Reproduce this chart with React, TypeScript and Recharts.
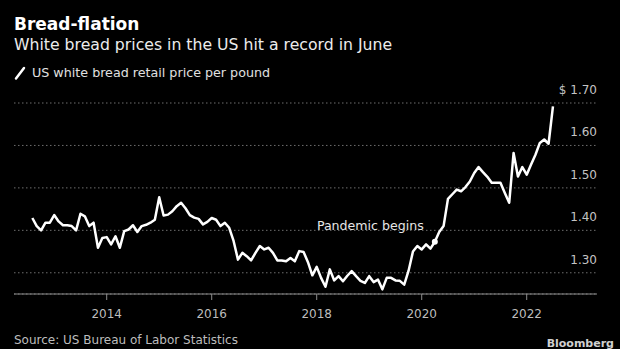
import React from 'react';
import { LineChart, Line, XAxis, YAxis, CartesianGrid, ReferenceDot } from 'recharts';

// US white bread retail price per pound (BLS), monthly, Jul 2012 - Jun 2022
const price2012 = [1.429, 1.41, 1.4, 1.418, 1.418, 1.436]; // Jul-Dec
const price2013 = [1.421, 1.412, 1.412, 1.41, 1.4, 1.439, 1.433, 1.41, 1.418, 1.359, 1.382, 1.384];
const price2014 = [1.367, 1.386, 1.359, 1.398, 1.402, 1.412, 1.396, 1.41, 1.413, 1.418, 1.425, 1.478];
const price2015 = [1.435, 1.437, 1.445, 1.457, 1.465, 1.452, 1.436, 1.43, 1.427, 1.414, 1.42, 1.429];
const price2016 = [1.425, 1.41, 1.418, 1.406, 1.375, 1.331, 1.347, 1.339, 1.329, 1.347, 1.363, 1.355];
const price2017 = [1.359, 1.347, 1.329, 1.329, 1.327, 1.335, 1.327, 1.351, 1.349, 1.325, 1.294, 1.314];
const price2018 = [1.288, 1.267, 1.308, 1.282, 1.292, 1.28, 1.293, 1.304, 1.292, 1.281, 1.276, 1.292];
const price2019 = [1.278, 1.284, 1.261, 1.288, 1.288, 1.282, 1.281, 1.272, 1.305, 1.35, 1.363, 1.355];
const price2020 = [1.367, 1.357, 1.373, 1.396, 1.41, 1.474, 1.485, 1.496, 1.492, 1.502, 1.515, 1.535];
const price2021 = [1.549, 1.537, 1.526, 1.512, 1.512, 1.512, 1.488, 1.465, 1.582, 1.527, 1.549, 1.531];
const price2022 = [1.555, 1.578, 1.606, 1.614, 1.604, 1.692]; // Jan-Jun

const yearTicks = [2014, 2016, 2018, 2020, 2022];
const priceTicks = [1.3, 1.4, 1.5, 1.6, 1.7];
const pandemicMonth = '2020-03';

const FONT = '"DejaVu Sans", sans-serif';
const PLOT_RIGHT = 597;

// [year, first month, values]
const series: [number, number, number[]][] = [
  [2012, 7, price2012],
  [2013, 1, price2013],
  [2014, 1, price2014],
  [2015, 1, price2015],
  [2016, 1, price2016],
  [2017, 1, price2017],
  [2018, 1, price2018],
  [2019, 1, price2019],
  [2020, 1, price2020],
  [2021, 1, price2021],
  [2022, 1, price2022],
];

// points sit at the end of their month
const data = series.flatMap(([year, first, values]) =>
  values.map((price, i) => {
    const m = first + i;
    return { month: `${year}-${String(m).padStart(2, '0')}`, t: year + m / 12, price };
  })
);

const pandemic = data.find(d => d.month === pandemicMonth)!;

const renderPriceTick = (props: any) => {
  const { y, payload } = props;
  const label = payload.value === 1.7 ? '$ 1.70' : Number(payload.value).toFixed(2);
  return (
    <text x={PLOT_RIGHT} y={y - 9} textAnchor="end" fill="#c4c4c4" fontSize={12} fontFamily={FONT}>
      {label}
    </text>
  );
};

const PandemicLabel = (props: any) => {
  const { viewBox } = props;
  return (
    <text x={viewBox.x - 8} y={viewBox.y - 9} textAnchor="end" fill="#e6e6e6" fontSize={12.6} fontFamily={FONT}>
      Pandemic begins
    </text>
  );
};

export default function App() {
  return (
    <div style={{ position: 'absolute', left: 0, top: 0, width: 620, height: 349, background: '#000', overflow: 'hidden' }}>
      <LineChart
        width={620}
        height={349}
        data={data}
        margin={{ top: 103, right: 620 - PLOT_RIGHT - 1, bottom: 25, left: 14 }}
        style={{ position: 'absolute', left: 0, top: 0 }}
      >
        <CartesianGrid vertical={false} stroke="#6e6e6e" strokeDasharray="1.5 2.5" />
        <XAxis
          type="number"
          dataKey="t"
          domain={[2012.234, 2023.339]}
          ticks={yearTicks}
          allowDataOverflow
          height={30}
          tickSize={6}
          tickMargin={9}
          axisLine={{ stroke: '#8c8c8c' }}
          tickLine={{ stroke: '#8c8c8c' }}
          tick={{ fill: '#bdbdbd', fontSize: 12, fontFamily: FONT }}
        />
        <YAxis
          orientation="right"
          width={1}
          type="number"
          domain={[1.25, 1.7]}
          ticks={priceTicks}
          interval={0}
          allowDataOverflow
          axisLine={false}
          tickLine={false}
          tick={renderPriceTick}
        />
        <Line
          type="linear"
          dataKey="price"
          stroke="#ffffff"
          strokeWidth={2.5}
          strokeLinejoin="round"
          dot={false}
          isAnimationActive={false}
        />
        <ReferenceDot
          x={pandemic.t}
          y={pandemic.price}
          r={3}
          fill="#ffffff"
          stroke="none"
          label={{ content: PandemicLabel }}
        />
      </LineChart>
      <svg width={620} height={349} style={{ position: 'absolute', left: 0, top: 0, pointerEvents: 'none' }}>
        <text x={14} y={30} fill="#ffffff" fontSize={17} fontWeight={700} fontFamily={FONT}>
          Bread-flation
        </text>
        <text x={14} y={50} fill="#ececec" fontSize={15.7} fontFamily={FONT}>
          White bread prices in the US hit a record in June
        </text>
        <line x1={16} y1={78.5} x2={24} y2={68} stroke="#ffffff" strokeWidth={2.5} strokeLinecap="round" />
        <text x={32} y={77} fill="#e0e0e0" fontSize={12.7} fontFamily={FONT}>
          US white bread retail price per pound
        </text>
        <text x={14} y={344} fill="#bdbdbd" fontSize={12} fontFamily={FONT}>
          Source: US Bureau of Labor Statistics
        </text>
        <text x={614} y={347} textAnchor="end" fill="#d0d0d0" fontSize={11} fontWeight={700} fontFamily={FONT}>
          Bloomberg
        </text>
      </svg>
    </div>
  );
}
